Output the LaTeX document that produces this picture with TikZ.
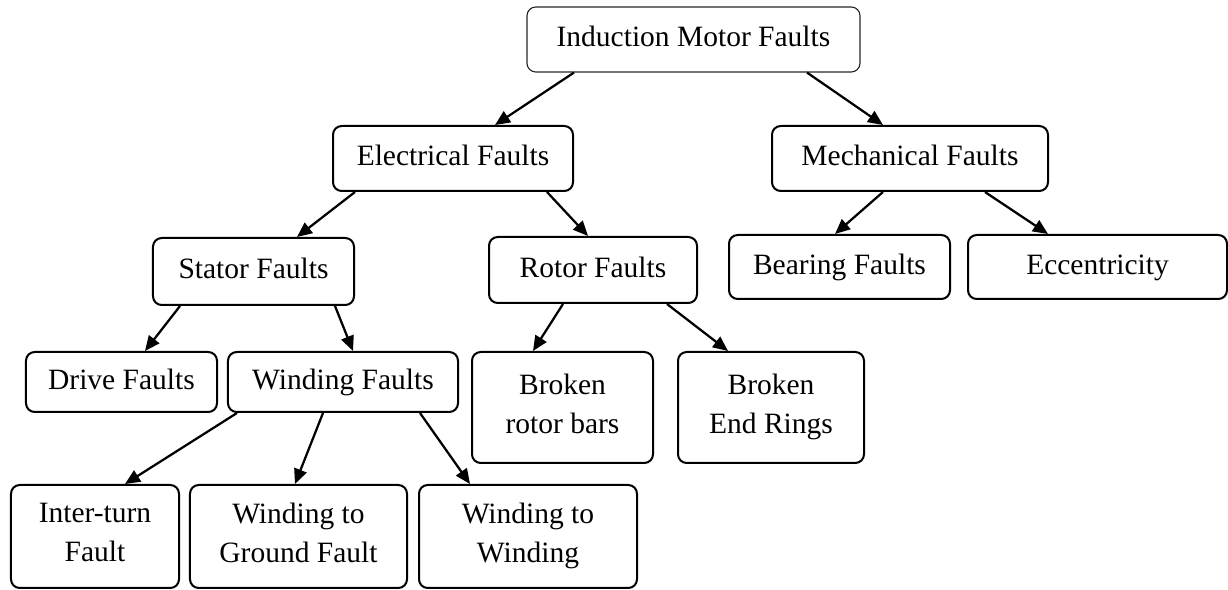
\documentclass[tikz,border=0pt]{standalone}
\usepackage{fontspec}
\setmainfont{Liberation Serif}
\usetikzlibrary{arrows.meta,calc}

\newcommand\faultstrut{\rule[-3pt]{0pt}{12pt}}

\tikzset{
    fault/.style={draw, line width=0.8pt, rounded corners=3.5pt, align=center,
        inner sep=0pt, font=\fontsize{11.8}{15.6}\selectfont,
        execute at begin node=\faultstrut, execute at end node=\faultstrut},
    rootbox/.style={fault, line width=0.45pt, draw=black!85},
    link/.style={line width=0.9pt, -{Triangle[length=6pt,width=5.2pt]}}
}

\begin{document}
\begin{tikzpicture}[x=0.4pt, y=-0.4pt]
    \useasboundingbox (0,0) rectangle (1228,590);

    % top level
    \node[rootbox, minimum width=133.2pt, minimum height=26pt] (root) at (693.5,39.5) {Induction Motor Faults};

    % second level
    \node[fault, minimum width=96pt, minimum height=26pt] (elec) at (453,158.5) {Electrical Faults};
    \node[fault, minimum width=110.4pt, minimum height=26pt] (mech) at (910,158.5) {Mechanical Faults};

    % third level
    \node[fault, minimum width=80.4pt, minimum height=26.8pt] (stator) at (253.5,271.5) {Stator Faults};
    \node[fault, minimum width=83.2pt, minimum height=26.4pt] (rotor) at (593,270) {Rotor Faults};
    \node[fault, minimum width=88.4pt, minimum height=25.6pt] (bearing) at (839.5,267) {Bearing Faults};
    \node[fault, minimum width=103.6pt, minimum height=25.6pt] (ecc) at (1097.5,267) {Eccentricity};

    % fourth level
    \node[fault, minimum width=76.4pt, minimum height=24pt] (drive) at (121.5,382) {Drive Faults};
    \node[fault, minimum width=92pt, minimum height=24pt] (winding) at (343,382) {Winding Faults};
    \node[fault, minimum width=72.4pt, minimum height=44.4pt] (bars) at (562.5,407.5) {Broken\\rotor bars};
    \node[fault, minimum width=74.4pt, minimum height=44.4pt] (rings) at (771,407.5) {Broken\\End Rings};

    % bottom level
    \node[fault, minimum width=67.2pt, minimum height=41.2pt] (inter) at (95,536.5) {Inter-turn\\Fault};
    \node[fault, minimum width=86.8pt, minimum height=41.2pt] (ground) at (298.5,536.5) {Winding to\\Ground Fault};
    \node[fault, minimum width=87.2pt, minimum height=41.2pt] (w2w) at (528,536.5) {Winding to\\Winding};

    % connectors
    \draw[link] ($(root.south)+(-119.5,0)$) -- ($(elec.north)+(42,0)$);
    \draw[link] ($(root.south)+(113.5,0)$) -- ($(mech.north)+(-27,0)$);
    \draw[link] ($(elec.south)+(-98,0)$) -- ($(stator.north)+(43.5,0)$);
    \draw[link] ($(elec.south)+(94,0)$) -- ($(rotor.north)+(-5,0)$);
    \draw[link] ($(mech.south)+(-27,0)$) -- ($(bearing.north)+(-4.5,0)$);
    \draw[link] ($(mech.south)+(75,0)$) -- ($(ecc.north)+(-49.5,0)$);
    \draw[link] ($(stator.south)+(-73.5,0)$) -- ($(drive.north)+(23.5,0)$);
    \draw[link] ($(stator.south)+(81.5,0)$) -- ($(winding.north)+(10,0)$);
    \draw[link] ($(rotor.south)+(-30,0)$) -- ($(bars.north)+(-29.5,0)$);
    \draw[link] ($(rotor.south)+(74,0)$) -- ($(rings.north)+(-43,0)$);
    \draw[link] ($(winding.south)+(-106,0)$) -- ($(inter.north)+(30,0)$);
    \draw[link] ($(winding.south)+(-20,0)$) -- ($(ground.north)+(-3.5,0)$);
    \draw[link] ($(winding.south)+(77,0)$) -- ($(w2w.north)+(-58,0)$);
\end{tikzpicture}
\end{document}
